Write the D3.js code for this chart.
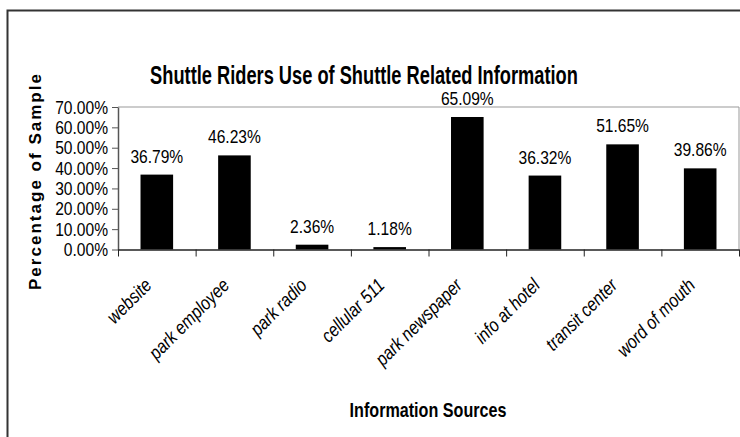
<!DOCTYPE html>
<html>
<head>
<meta charset="utf-8">
<script src="https://cdn.jsdelivr.net/npm/d3@7"></script>
<style>
  body { margin: 0; background: #fff; }
  svg { display: block; font-family: "Liberation Sans", Arial, sans-serif; }
</style>
</head>
<body>
<div id="chart"></div>
<script>
const categories = ["website", "park employee", "park radio", "cellular 511",
                    "park newspaper", "info at hotel", "transit center", "word of mouth"];
const values = [36.79, 46.23, 2.36, 1.18, 65.09, 36.32, 51.65, 39.86];
const yTicks = [0, 10, 20, 30, 40, 50, 60, 70];

const width = 740;
const height = 437;
const plotLeft = 118, plotRight = 739, plotTop = 107, plotBottom = 249.5;

// no narrow font installed, so squeeze text horizontally instead
function condense(sel, k) {
    sel.each(function() {
        const w = this.getComputedTextLength();
        d3.select(this)
            .attr("textLength", w * k)
            .attr("lengthAdjust", "spacingAndGlyphs");
    });
}

// squeeze a centred text to a given width with a scale transform
function squeezeTo(sel, cx, cy, targetW) {
    sel.each(function() {
        const w = this.getComputedTextLength();
        d3.select(this)
            .attr("transform", `translate(${cx},${cy}) scale(${targetW / w},1)`);
    });
}

const svg = d3.select("#chart").append("svg")
    .attr("width", width)
    .attr("height", height);

// outer chart frame (runs off the right / bottom edge)
svg.append("rect")
    .attr("x", 7.5).attr("y", 10.5)
    .attr("width", 800).attr("height", 500)
    .attr("fill", "none")
    .attr("stroke", "#333")
    .attr("stroke-width", 2);

const x = d3.scaleBand()
    .domain(categories)
    .range([plotLeft, plotRight])
    .paddingInner(0.58)
    .paddingOuter(0.29);

const xEdges = d3.scaleLinear()
    .domain([0, categories.length])
    .range([plotLeft, plotRight]);

const y = d3.scaleLinear()
    .domain([0, 70])
    .range([plotBottom, plotTop]);

// plot area border (top + right)
svg.append("path")
    .attr("d", `M${plotLeft},${plotTop}H${plotRight}V${plotBottom}`)
    .attr("fill", "none")
    .attr("stroke", "#999")
    .attr("stroke-width", 1);

// bars
svg.append("g")
    .selectAll("rect")
    .data(values)
    .enter()
    .append("rect")
        .attr("x", (d, i) => x(categories[i]))
        .attr("y", d => y(d))
        .attr("width", x.bandwidth())
        .attr("height", d => plotBottom - y(d))
        .attr("fill", "#000");

// data labels
svg.append("g")
    .selectAll("text")
    .data(values)
    .enter()
    .append("text")
        .attr("x", (d, i) => x(categories[i]) + x.bandwidth() / 2)
        .attr("y", d => y(d) - 12)
        .attr("text-anchor", "middle")
        .attr("font-size", 19)
        .text(d => d.toFixed(2) + "%")
        .call(condense, 0.82);

// y axis
const yAxis = d3.axisLeft(y)
    .tickValues(yTicks)
    .tickSize(6)
    .tickSizeOuter(0)
    .tickPadding(4)
    .tickFormat(d => d.toFixed(2) + "%");

const gy = svg.append("g")
    .attr("transform", `translate(${plotLeft},0)`)
    .call(yAxis);
gy.select(".domain").attr("stroke", "#555").attr("stroke-width", 1.5);
gy.selectAll(".tick line").attr("stroke", "#555");
gy.selectAll(".tick text")
    .attr("font-family", "Liberation Sans, Arial, sans-serif")
    .attr("font-size", 19)
    .attr("fill", "#000")
    .call(condense, 0.82);

// x axis (ticks between categories)
const xAxis = d3.axisBottom(xEdges)
    .tickValues(d3.range(categories.length + 1))
    .tickSize(7)
    .tickSizeOuter(0)
    .tickFormat("");

const gx = svg.append("g")
    .attr("transform", `translate(0,${plotBottom})`)
    .call(xAxis);
gx.select(".domain").attr("stroke", "#222").attr("stroke-width", 1.5);
gx.selectAll(".tick line").attr("stroke", "#222");

// category labels
svg.append("g")
    .selectAll("text")
    .data(categories)
    .enter()
    .append("text")
        .attr("transform", d => `translate(${x(d) + x.bandwidth() / 2 - 4},${plotBottom + 37}) rotate(-45)`)
        .attr("text-anchor", "end")
        .attr("font-size", 19)
        .attr("font-style", "italic")
        .text(d => d)
        .call(condense, 0.84);

// title
svg.append("text")
    .attr("text-anchor", "middle")
    .attr("font-size", 26)
    .attr("font-weight", "bold")
    .text("Shuttle Riders Use of Shuttle Related Information")
    .call(squeezeTo, 364, 84, 428);

// x axis title
svg.append("text")
    .attr("text-anchor", "middle")
    .attr("font-size", 20)
    .attr("font-weight", "bold")
    .text("Information Sources")
    .call(squeezeTo, 428, 417, 157);

// y axis title
svg.append("text")
    .attr("transform", `translate(41,182) rotate(-90)`)
    .attr("text-anchor", "middle")
    .attr("font-size", 17)
    .attr("font-weight", "bold")
    .attr("textLength", 216)
    .attr("lengthAdjust", "spacing")
    .text("Percentage of Sample");
</script>
</body>
</html>
